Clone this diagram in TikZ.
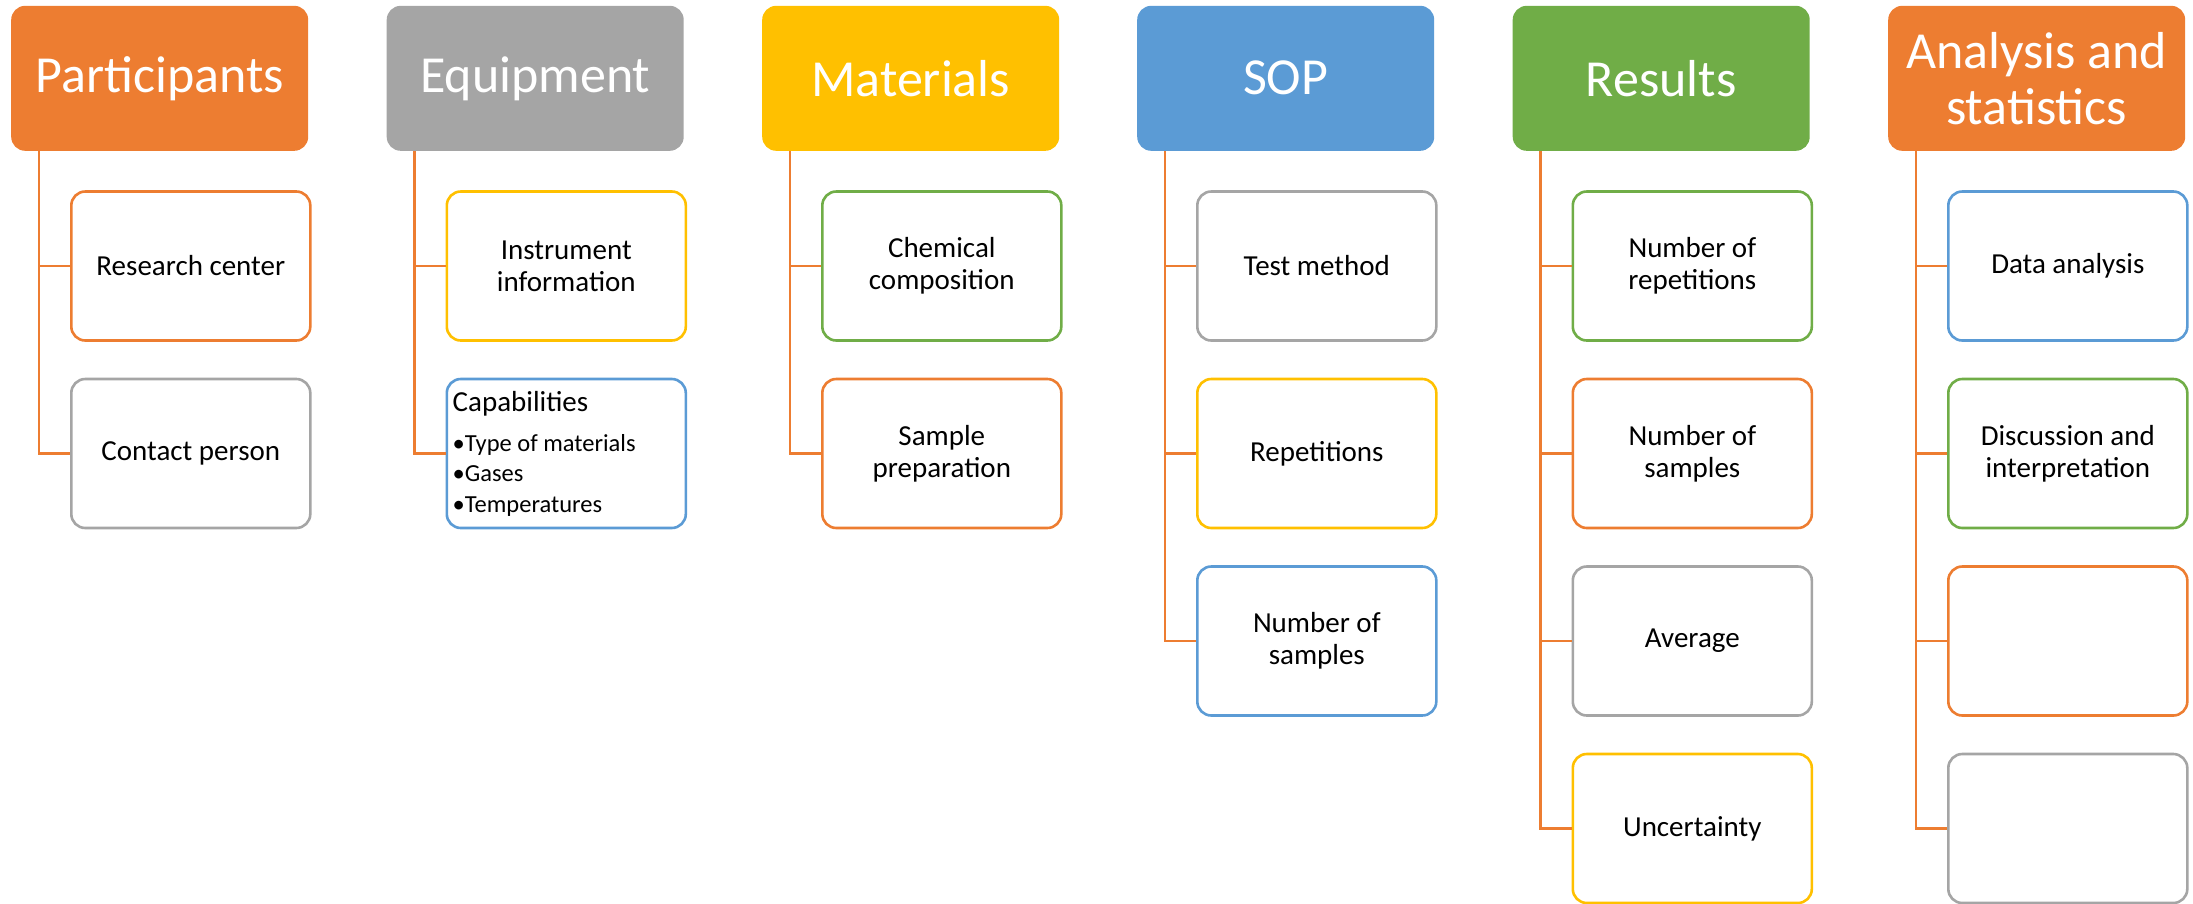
\documentclass[tikz,border=0pt]{standalone}
\usepackage{fontspec}
\setmainfont{Carlito}
\usetikzlibrary{calc}

\definecolor{accOrange}{HTML}{ED7D31}
\definecolor{accGray}{HTML}{A5A5A5}
\definecolor{accGold}{HTML}{FFC000}
\definecolor{accBlue}{HTML}{5B9BD5}
\definecolor{accGreen}{HTML}{70AD47}

\newcommand{\headfont}{\fontsize{52}{56}\selectfont}
\newcommand{\itemfont}{\fontsize{29}{32}\selectfont}
\newcommand{\bulletfont}{\fontsize{24.5}{28}\selectfont}

\begin{document}
\begin{tikzpicture}[x=1pt,y=-1pt,
  head/.style={fill=#1, rounded corners=14pt, minimum width=297pt,
    minimum height=145pt, text=white, font=\headfont, align=center,
    inner sep=0pt, anchor=north west},
  item/.style={draw=#1, line width=2.6pt, rounded corners=14pt, fill=white,
    minimum width=239pt, minimum height=149pt, font=\itemfont,
    align=center, inner sep=0pt, anchor=west},
  link/.style={draw=accOrange, line width=2.4pt},
  capline/.style={anchor=base west, inner sep=0pt}
]
\useasboundingbox (0,0) rectangle (2193,903);

% column headers
\node[head=accOrange] (h1) at (11,5.6)    {Participants};
\node[head=accGray]   (h2) at (386.5,5.6) {Equipment};
\node[head=accGold]   (h3) at (762,5.6)   {Materials};
\node[head=accBlue]   (h4) at (1137,5.6)  {SOP};
\node[head=accGreen]  (h5) at (1512.5,5.6){Results};
\node[head=accOrange] (h6) at (1888,5.6)  {Analysis and\\statistics};

% Participants
\node[item=accOrange] (c11) at (70,266)    {Research center};
\node[item=accGray]   (c12) at (70,453.5)  {Contact person};

% Equipment
\node[item=accGold]   (c21) at (445.5,266)   {Instrument\\information};
\node[item=accBlue]   (c22) at (445.5,453.5) {};
\node[capline, font=\itemfont]   (cap0) at ($(c22.west)+(7,-42)$) {Capabilities};
\node[capline, font=\bulletfont] (cap1) at ($(c22.west)+(7,-2)$)  {•Type of materials};
\node[capline, font=\bulletfont] (cap2) at ($(c22.west)+(7,28)$)  {•Gases};
\node[capline, font=\bulletfont] (cap3) at ($(c22.west)+(7,59)$)  {•Temperatures};

% Materials
\node[item=accGreen]  (c31) at (821,266)   {Chemical\\composition};
\node[item=accOrange] (c32) at (821,453.5) {Sample\\preparation};

% SOP
\node[item=accGray]   (c41) at (1196,266)   {Test method};
\node[item=accGold]   (c42) at (1196,453.5) {Repetitions};
\node[item=accBlue]   (c43) at (1196,641)   {Number of\\samples};

% Results
\node[item=accGreen]  (c51) at (1571.5,266)   {Number of\\repetitions};
\node[item=accOrange] (c52) at (1571.5,453.5) {Number of\\samples};
\node[item=accGray]   (c53) at (1571.5,641)   {Average};
\node[item=accGold]   (c54) at (1571.5,828.5) {Uncertainty};

% Analysis and statistics
\node[item=accBlue]   (c61) at (1947,266)   {Data analysis};
\node[item=accGreen]  (c62) at (1947,453.5) {Discussion and\\interpretation};
\node[item=accOrange] (c63) at (1947,641)   {};
\node[item=accGray]   (c64) at (1947,828.5) {};

% tree connectors: a trunk under each header, a branch to each item
\foreach \h in {1,...,6} {
  \coordinate (t\h) at ($(h\h.south west)+(28,0)$);
}
\foreach \h/\c in {1/c11,1/c12,2/c21,2/c22,3/c31,3/c32,
                   4/c41,4/c42,4/c43,5/c51,5/c52,5/c53,5/c54,
                   6/c61,6/c62,6/c63,6/c64} {
  \draw[link] (t\h) |- (\c.west);
}
\end{tikzpicture}
\end{document}
